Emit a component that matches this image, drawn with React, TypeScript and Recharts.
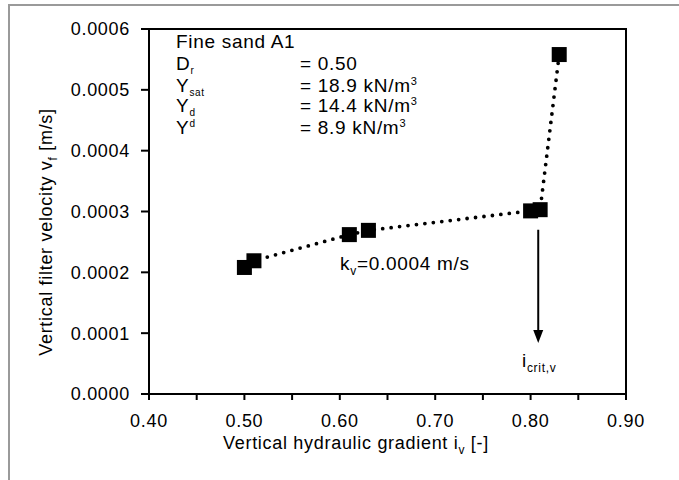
import React from 'react';
import {
  ScatterChart,
  Scatter,
  XAxis,
  YAxis,
  ReferenceArea,
  ReferenceLine,
  ReferenceDot,
} from 'recharts';

// ── Data ─────────────────────────────────────────────────────────────────────

const GRADIENT = [0.5, 0.51, 0.61, 0.63, 0.8, 0.81, 0.83];
const VELOCITY = [0.000208, 0.000219, 0.000262, 0.000269, 0.000301, 0.000303, 0.000558];

const X_TICKS = [0.4, 0.45, 0.5, 0.55, 0.6, 0.65, 0.7, 0.75, 0.8, 0.85, 0.9];
const X_LABELS = ['0.40', '', '0.50', '', '0.60', '', '0.70', '', '0.80', '', '0.90'];
const Y_TICKS = [0, 0.0001, 0.0002, 0.0003, 0.0004, 0.0005, 0.0006];

// critical gradient arrow (x, y start, y end)
const CRIT_X = 0.808;
const CRIT_Y_FROM = 0.00027;
const CRIT_Y_TO = 0.000084;

const rows = GRADIENT.map((x, i) => ({ x, y: VELOCITY[i] }));

// ── Constants ────────────────────────────────────────────────────────────────

const W = 679;
const H = 480;
const FONT = "Arial, 'Liberation Sans', sans-serif";
const FS = 18;
const LS = 0.7; // the original text is a bit stretched horizontally
const TICK = { fill: '#000', fontSize: FS, letterSpacing: LS };

// square marker, 15px
function SquareDot(props: { cx?: number; cy?: number }) {
  const { cx = 0, cy = 0 } = props;
  return <rect x={cx - 7.5} y={cy - 7.5} width={15} height={15} fill="#000" />;
}

function ArrowHead(props: { cx?: number; cy?: number }) {
  const { cx = 0, cy = 0 } = props;
  return <polygon points={`${cx},${cy} ${cx - 5},${cy - 13} ${cx + 5},${cy - 13}`} fill="#000" />;
}

export default function App() {
  return (
    <div
      style={{
        position: 'relative',
        width: W,
        height: H,
        overflow: 'hidden',
        background: '#fff',
        fontFamily: FONT,
      }}
    >
      <style>{'body{margin:0}'}</style>
      {/* outer frame of the original figure */}
      <div
        style={{
          position: 'absolute',
          left: 8,
          top: 4,
          width: 720,
          height: 520,
          border: '2px solid #9a9a9a',
        }}
      />
      <ScatterChart
        width={W}
        height={H}
        margin={{ top: 29, right: 53, bottom: 56, left: 69 }}
        style={{ position: 'absolute', left: 0, top: 0 }}
      >
        <XAxis
          type="number"
          dataKey="x"
          domain={[0.4, 0.9]}
          ticks={X_TICKS}
          tickFormatter={(_v: number, i: number) => X_LABELS[i]}
          tick={TICK}
          tickSize={6}
          tickMargin={14}
          height={30}
          stroke="#000"
          strokeWidth={2}
          interval={0}
        />
        <YAxis
          type="number"
          dataKey="y"
          domain={[0, 0.0006]}
          ticks={Y_TICKS}
          tickFormatter={(v: number) => v.toFixed(4)}
          tick={TICK}
          tickSize={8}
          tickMargin={11}
          width={80}
          stroke="#000"
          strokeWidth={2}
          interval={0}
        />
        <ReferenceArea
          x1={0.4}
          x2={0.9}
          y1={0}
          y2={0.0006}
          fill="none"
          stroke="#000"
          strokeWidth={2}
          fillOpacity={0}
        />
        <ReferenceLine
          segment={[
            { x: CRIT_X, y: CRIT_Y_FROM },
            { x: CRIT_X, y: CRIT_Y_TO + 0.000012 },
          ]}
          stroke="#000"
          strokeWidth={2}
        />
        <ReferenceDot x={CRIT_X} y={CRIT_Y_TO} shape={ArrowHead} />
        <Scatter
          data={rows}
          isAnimationActive={false}
          shape={SquareDot}
          line={{ stroke: '#000', strokeWidth: 3.8, strokeDasharray: '0 8.5', strokeLinecap: 'round' }}
          lineType="joint"
        />
      </ScatterChart>

      {/* annotations */}
      <svg
        width={W}
        height={H}
        style={{ position: 'absolute', left: 0, top: 0, pointerEvents: 'none' }}
        fontFamily={FONT}
        fill="#000"
      >
        <g fontSize={19} letterSpacing={LS}>
          <text x={176} y={48}>Fine sand A1</text>
          <text x={176} y={70}>
            D<tspan fontSize={10} dy={4}>r</tspan>
          </text>
          <text x={176} y={92}>
            Y<tspan fontSize={10} dy={4}>sat</tspan>
          </text>
          <text x={176} y={112}>
            Y<tspan fontSize={10} dy={4}>d</tspan>
          </text>
          <text x={176} y={134}>
            Y<tspan fontSize={10} dy={-7}>d</tspan>
          </text>
          <text x={300} y={70}>= 0.50</text>
          <text x={300} y={92}>
            = 18.9 kN/m<tspan fontSize={11} dy={-7}>3</tspan>
          </text>
          <text x={300} y={112}>
            = 14.4 kN/m<tspan fontSize={11} dy={-7}>3</tspan>
          </text>
          <text x={300} y={134}>
            = 8.9 kN/m<tspan fontSize={11} dy={-7}>3</tspan>
          </text>

          <text x={340} y={270}>
            k<tspan fontSize={12} dy={5}>v</tspan>
            <tspan dy={-5}>=0.0004 m/s</tspan>
          </text>

          <text x={522} y={367}>
            i<tspan fontSize={12} dy={5}>crit,v</tspan>
          </text>
        </g>
        <g fontSize={FS} letterSpacing={LS}>
          <text x={356} y={449} textAnchor="middle">
            Vertical hydraulic gradient i<tspan fontSize={12} dy={5}>v</tspan>
            <tspan dy={-5}> [-]</tspan>
          </text>

          <text x={52} y={232} textAnchor="middle" transform="rotate(-90 52 232)">
            Vertical filter velocity v<tspan fontSize={12} dy={5}>f</tspan>
            <tspan dy={-5}> [m/s]</tspan>
          </text>
        </g>
      </svg>
    </div>
  );
}
